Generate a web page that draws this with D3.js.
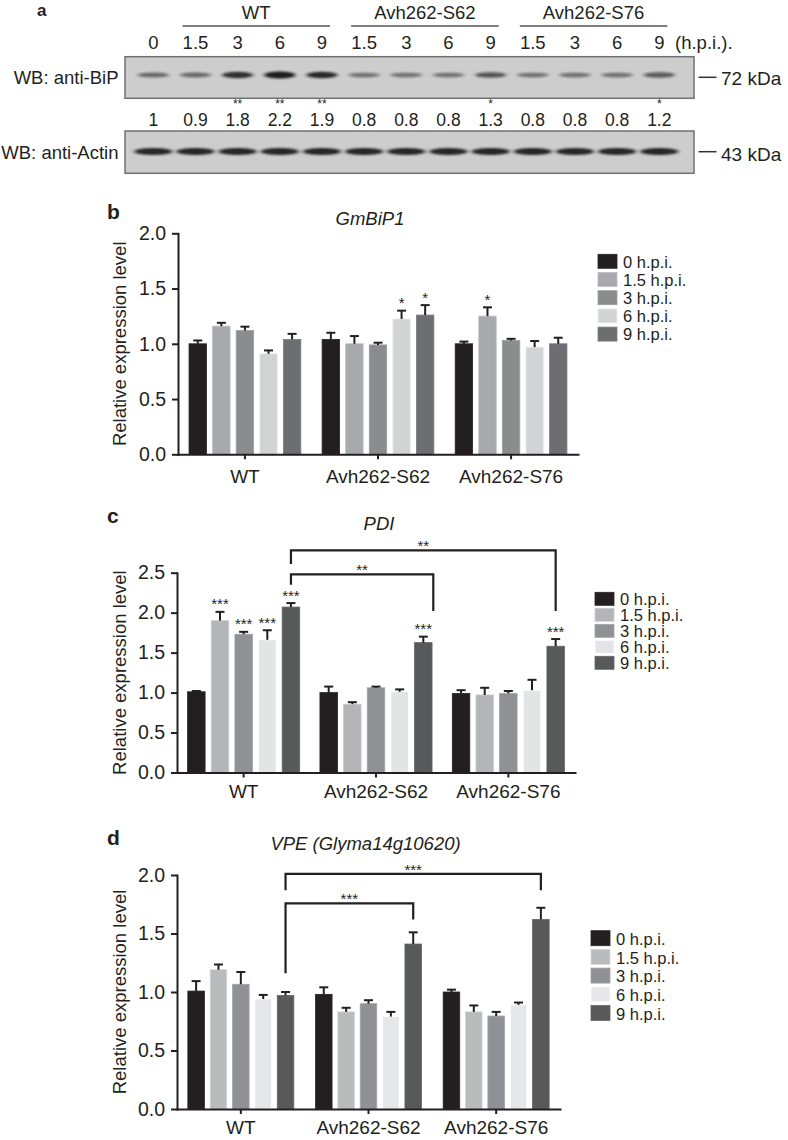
<!DOCTYPE html>
<html><head><meta charset="utf-8">
<script src="https://cdn.jsdelivr.net/npm/d3@7"></script>
<style>
body{margin:0;background:#fff;}
svg{display:block;font-family:"Liberation Sans",Arial,Helvetica,sans-serif;}
</style></head><body>
<svg id="fig" width="788" height="1140"></svg>
<script>
// ================= DATA =================
// Panel a – western blot
const laneLabels = ["0","1.5","3","6","9","1.5","3","6","9","1.5","3","6","9"];
const laneGroupNames = ["WT","Avh262-S62","Avh262-S76"];
const laneGroupFirst = [1,5,9];
const laneGroupLast = [4,8,12];
const bipRatio = [1,0.9,1.8,2.2,1.9,0.8,0.8,0.8,1.3,0.8,0.8,0.8,1.2];
const bipStars = ["","","**","**","**","","","","*","","","","*"];
const actinLevel = [1,1,1,1,1,1,1,1,1,1,1,1,1];

// Panels b–d
const groups = ["WT","Avh262-S62","Avh262-S76"];
const timepoints = ["0 h.p.i.","1.5 h.p.i.","3 h.p.i.","6 h.p.i.","9 h.p.i."];

const bip1Mean = [[1.00,1.16,1.12,0.91,1.04],[1.04,1.00,0.99,1.225,1.26],[1.00,1.25,1.03,0.97,1.00]];
const bip1Sem  = [[0.03,0.03,0.035,0.03,0.05],[0.06,0.07,0.02,0.075,0.09],[0.02,0.08,0.015,0.055,0.055]];
const bip1Stars = [["","","","",""],["","","","*","*"],["","*","","",""]];
const bip1Ticks = [0,0.5,1.0,1.5,2.0];

const pdiMean = [[1.01,1.90,1.73,1.66,2.07],[1.00,0.855,1.06,1.01,1.625],[0.99,0.97,0.99,1.03,1.58]];
const pdiSem  = [[0.01,0.11,0.03,0.12,0.05],[0.075,0.025,0.015,0.03,0.075],[0.04,0.09,0.03,0.13,0.09]];
const pdiStars = [["","***","***","***","***"],["","","","","***"],["","","","","***"]];
const pdiTicks = [0,0.5,1.0,1.5,2.0,2.5];
const pdiBrackets = [
  {g1:0,t1:4,g2:2,t2:4,label:"**",top:2.78,end1:2.61,end2:2.02},
  {g1:0,t1:4,g2:1,t2:4,label:"**",top:2.48,end1:2.35,end2:2.02}
];

const vpeMean = [[1.008,1.19,1.066,0.94,0.97],[0.98,0.83,0.90,0.79,1.41],[1.00,0.83,0.795,0.89,1.62]];
const vpeSem  = [[0.085,0.045,0.105,0.035,0.03],[0.06,0.035,0.03,0.04,0.10],[0.02,0.055,0.035,0.02,0.10]];
const vpeStars = [["","","","",""],["","","","",""],["","","","",""]];
const vpeTicks = [0,0.5,1.0,1.5,2.0];
const vpeBrackets = [
  {g1:0,t1:4,g2:2,t2:4,label:"***",top:2.01,end1:1.87,end2:1.87},
  {g1:0,t1:4,g2:1,t2:4,label:"***",top:1.758,end1:1.16,end2:1.62}
];

// ================= STYLE / LAYOUT =================
const INK = "#231f20";
const svg = d3.select("#fig");
const defs = svg.append("defs");
defs.append("filter").attr("id","blur").attr("x","-30%").attr("y","-100%").attr("width","160%").attr("height","300%")
  .append("feGaussianBlur").attr("stdDeviation","2.2 1.3");

function letter(t,x,y,fs){
  svg.append("text").attr("x",x).attr("y",y).attr("font-size",fs||21).attr("font-weight","bold").attr("fill",INK).text(t);
}

// ================= PANEL A =================
(function(){
  const lane = d3.scalePoint().domain(d3.range(laneLabels.length)).range([153.3,659.3]);
  const g = svg.append("g");
  letter("a",37,16,17);
  laneGroupNames.forEach((n,i)=>{
    const xa = lane(laneGroupFirst[i]) - 13, xb = lane(laneGroupLast[i]) + 8;
    g.append("line").attr("x1",xa).attr("x2",xb).attr("y1",26).attr("y2",26).attr("stroke","#555").attr("stroke-width",1.4);
    g.append("text").attr("x",(xa+xb)/2).attr("y",18.5).attr("text-anchor","middle").attr("font-size",18.5).attr("fill",INK).text(n);
  });
  g.selectAll(".ll").data(laneLabels).join("text")
    .attr("x",(d,i)=>lane(i)).attr("y",49).attr("text-anchor","middle").attr("font-size",18.5).attr("fill",INK).text(d=>d);
  g.append("text").attr("x",675).attr("y",49).attr("font-size",18.5).attr("fill",INK).text("(h.p.i.).");

  const blots = [
    {y0:56.7,y1:98.3,cy:75,vals:bipRatio,label:"WB: anti-BiP",kda:"72 kDa",ly:77.3,lb:83.5,actin:false},
    {y0:131,y1:173.3,cy:151.5,vals:actinLevel,label:"WB: anti-Actin",kda:"43 kDa",ly:151.7,lb:159,actin:true}
  ];
  blots.forEach(b=>{
    g.append("rect").attr("x",125).attr("y",b.y0).attr("width",569).attr("height",b.y1-b.y0)
      .attr("fill","#cdcdcd").attr("stroke","#707070").attr("stroke-width",1.5);
    const bg = g.append("g").attr("filter","url(#blur)");
    b.vals.forEach((v,i)=>{
      if(b.actin){
        bg.append("ellipse").attr("cx",lane(i)).attr("cy",b.cy).attr("rx",19).attr("ry",3.6)
          .attr("fill","#1a1a1a").attr("opacity",0.95*v);
      } else {
        bg.append("ellipse").attr("cx",lane(i)).attr("cy",b.cy).attr("rx",15.5).attr("ry",1.6+0.9*v)
          .attr("fill","#1a1a1a").attr("opacity",Math.min(1,0.22+0.36*v));
      }
    });
    g.append("text").attr("x",118.5).attr("y",b.lb).attr("text-anchor","end").attr("font-size",18.5).attr("fill",INK).text(b.label);
    g.append("line").attr("x1",698.5).attr("x2",716.5).attr("y1",b.ly).attr("y2",b.ly).attr("stroke","#333").attr("stroke-width",1.5);
    g.append("text").attr("x",721).attr("y",b.lb+1.5).attr("font-size",19).attr("fill",INK).text(b.kda);
  });
  g.selectAll(".q").data(bipRatio).join("text")
    .attr("x",(d,i)=>lane(i)).attr("y",125.5).attr("text-anchor","middle").attr("font-size",17.5).attr("fill",INK).text(d=>String(d));
  g.selectAll(".qs").data(bipStars).join("text")
    .attr("x",(d,i)=>lane(i)).attr("y",107.5).attr("text-anchor","middle").attr("font-size",12).attr("fill",INK).text(d=>d);
})();

// ================= BAR PANELS =================
function barPanel(p){
  const g = svg.append("g");
  const x = d3.scaleBand().domain(groups).range([p.x0,p.x1]).paddingInner(p.padIn).paddingOuter(p.padOut);
  const xi = d3.scaleBand().domain(d3.range(timepoints.length)).range([0,x.bandwidth()]).paddingInner(0.26);
  const y = d3.scaleLinear().domain([0,p.yMax]).range([p.yB,p.yT]);
  const cx = (gi,ti)=> x(groups[gi]) + xi(ti) + xi.bandwidth()/2;

  letter(p.letter,p.lx,p.ly);
  g.append("text").attr("x",p.tx).attr("y",p.ty).attr("text-anchor","middle").attr("font-size",18.5)
    .attr("font-style","italic").attr("fill",INK).text(p.title);

  groups.forEach((gn,gi)=>{
    p.mean[gi].forEach((v,ti)=>{
      const bx = x(gn)+xi(ti);
      g.append("rect").attr("x",bx).attr("y",y(v)).attr("width",xi.bandwidth()).attr("height",y(0)-y(v))
        .attr("fill",p.colors[ti]).attr("stroke",d3.color(p.colors[ti]).brighter(0.35)).attr("stroke-width",0.8);
      const c = cx(gi,ti), top = y(v+p.sem[gi][ti]);
      g.append("line").attr("x1",c).attr("x2",c).attr("y1",y(v)).attr("y2",top).attr("stroke",INK).attr("stroke-width",2);
      g.append("line").attr("x1",c-4.5).attr("x2",c+4.5).attr("y1",top).attr("y2",top).attr("stroke",INK).attr("stroke-width",2);
      const s = p.stars[gi][ti];
      if(s) g.append("text").attr("x",c).attr("y",top-2.5).attr("text-anchor","middle").attr("font-size",15).attr("fill",INK).text(s);
    });
  });

  (p.brackets||[]).forEach(b=>{
    const xa = cx(b.g1,b.t1), xb = cx(b.g2,b.t2) + (b.dx2||0);
    g.append("path").attr("d",`M${xa},${y(b.end1)}V${y(b.top)}H${xb}V${y(b.end2)}`)
      .attr("fill","none").attr("stroke",INK).attr("stroke-width",2.2);
    g.append("text").attr("x",(xa+xb)/2).attr("y",y(b.top)+1).attr("text-anchor","middle").attr("font-size",15)
      .attr("fill",INK).text(b.label);
  });

  const ya = g.append("g").attr("transform",`translate(${p.x0},0)`)
    .call(d3.axisLeft(y).tickValues(p.ticks).tickFormat(d3.format(".1f")).tickSize(6).tickSizeOuter(0).tickPadding(6));
  const xa = g.append("g").attr("transform",`translate(0,${y(0)})`)
    .call(d3.axisBottom(x).tickSize(5).tickSizeOuter(0).tickPadding(p.xPad));
  [ya,xa].forEach(a=>{
    a.select(".domain").attr("stroke",INK).attr("stroke-width",2).attr("stroke-linecap","square");
    a.selectAll(".tick line").attr("stroke",INK).attr("stroke-width",2);
    a.selectAll(".tick text").attr("fill",INK).attr("font-family","Liberation Sans, Arial, sans-serif");
  });
  ya.selectAll(".tick text").attr("font-size",19.5);
  xa.selectAll(".tick text").attr("font-size",19);
  g.append("text").attr("transform",`translate(126,${(p.yB+p.yT)/2}) rotate(-90)`).attr("text-anchor","middle")
    .attr("font-size",18.5).attr("fill",INK).text("Relative expression level");

  const lg = g.append("g");
  timepoints.forEach((t,i)=>{
    const ry = p.legY + i*p.legStep;
    lg.append("rect").attr("x",p.legX).attr("y",ry).attr("width",19).attr("height",p.legH)
      .attr("fill",p.colors[i]).attr("stroke",d3.color(p.colors[i]).brighter(0.35)).attr("stroke-width",0.8);
    lg.append("text").attr("x",p.legX+25).attr("y",ry+p.legH-0.8).attr("font-size",16.5).attr("fill",INK).text(t);
  });
}

barPanel({letter:"b",lx:107,ly:218.5,title:"GmBiP1",tx:370,ty:225,
  mean:bip1Mean,sem:bip1Sem,stars:bip1Stars,ticks:bip1Ticks,yMax:2.0,
  x0:178,x1:578,padIn:0.16,padOut:0.083,yB:454.3,yT:233.3,xPad:10,
  colors:["#231f20","#a7a9ac","#8a8c8e","#d1d3d4","#6d6e71"],
  legX:598,legY:254.3,legStep:18.2,legH:14});

barPanel({letter:"c",lx:107,ly:523,title:"PDI",tx:379,ty:530,
  mean:pdiMean,sem:pdiSem,stars:pdiStars,ticks:pdiTicks,yMax:2.5,brackets:pdiBrackets.map((b,i)=>i===1?Object.assign({dx2:10},b):b),
  x0:177,x1:575,padIn:0.153,padOut:0.08,yB:772.5,yT:572.7,xPad:7,
  colors:["#231f20","#b3b5b8","#8f9194","#e3e4e5","#58595b"],
  legX:595,legY:592.3,legStep:16,legH:13});

barPanel({letter:"d",lx:107,ly:845,title:"VPE (Glyma14g10620)",tx:365.5,ty:849.5,
  mean:vpeMean,sem:vpeSem,stars:vpeStars,ticks:vpeTicks,yMax:2.0,brackets:vpeBrackets,
  x0:177,x1:560,padIn:0.17,padOut:0.085,yB:1109,yT:875,xPad:7,
  colors:["#231f20","#b9bbbd","#8f9194","#e6e7e8","#58595b"],
  legX:591,legY:930.7,legStep:18.7,legH:15});
</script>
</body></html>
